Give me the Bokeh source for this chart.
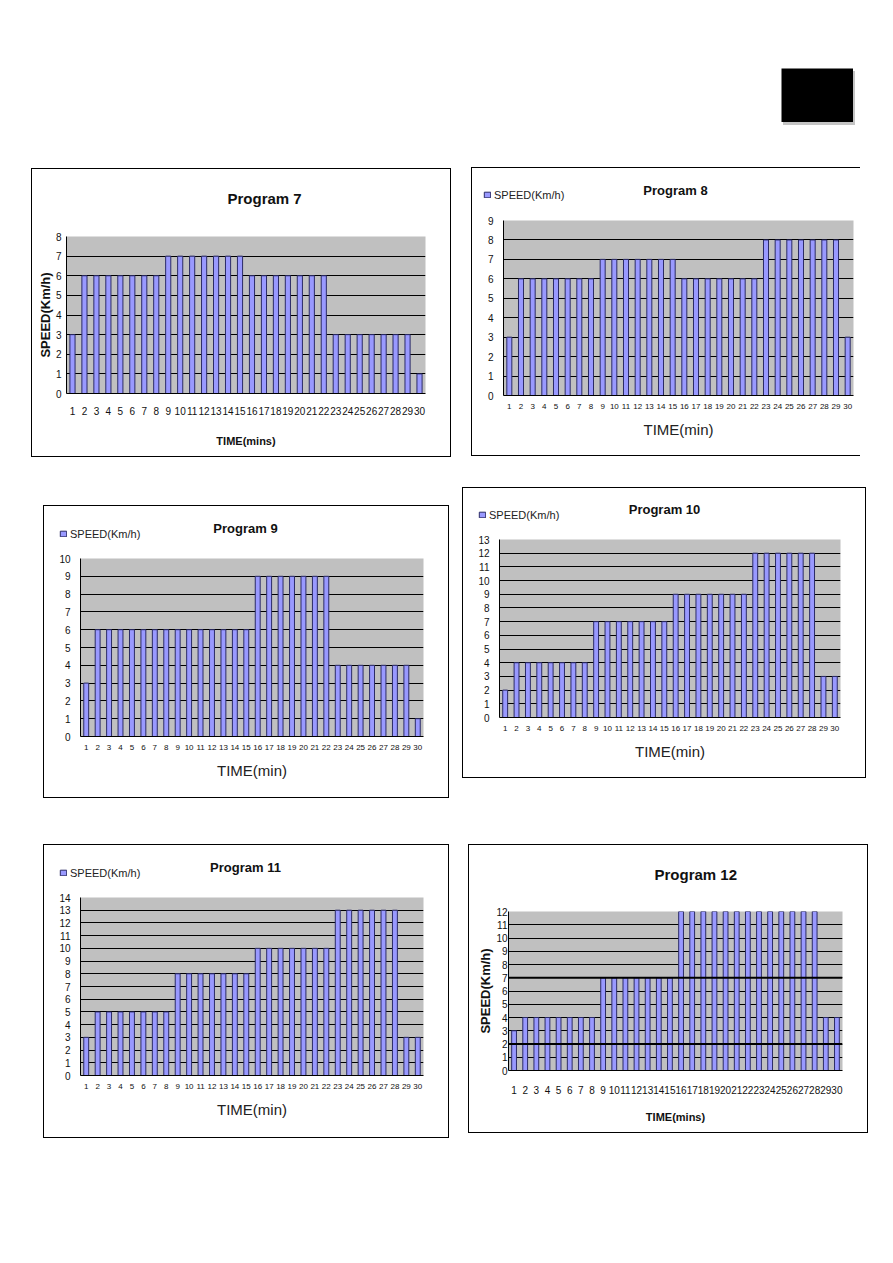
from bokeh.plotting import figure
from bokeh.models import (FactorRange, Range1d, FixedTicker, Legend, LegendItem,
                          Spacer, Span, Title, Label)
from bokeh.layouts import row, column
from bokeh.embed import file_html
from bokeh.resources import INLINE

# ---------------- data ----------------
minutes = [str(i) for i in range(1, 31)]

p7_speed = [3, 6, 6, 6, 6, 6, 6, 6, 7, 7, 7, 7, 7, 7, 7,
            6, 6, 6, 6, 6, 6, 6, 3, 3, 3, 3, 3, 3, 3, 1]
p8_speed = [3, 6, 6, 6, 6, 6, 6, 6, 7, 7, 7, 7, 7, 7, 7,
            6, 6, 6, 6, 6, 6, 6, 8, 8, 8, 8, 8, 8, 8, 3]
p9_speed = [3, 6, 6, 6, 6, 6, 6, 6, 6, 6, 6, 6, 6, 6, 6,
            9, 9, 9, 9, 9, 9, 9, 4, 4, 4, 4, 4, 4, 4, 1]
p10_speed = [2, 4, 4, 4, 4, 4, 4, 4, 7, 7, 7, 7, 7, 7, 7,
             9, 9, 9, 9, 9, 9, 9, 12, 12, 12, 12, 12, 12, 3, 3]
p11_speed = [3, 5, 5, 5, 5, 5, 5, 5, 8, 8, 8, 8, 8, 8, 8,
             10, 10, 10, 10, 10, 10, 10, 13, 13, 13, 13, 13, 13, 3, 3]
p12_speed = [3, 4, 4, 4, 4, 4, 4, 4, 7, 7, 7, 7, 7, 7, 7,
             12, 12, 12, 12, 12, 12, 12, 12, 12, 12, 12, 12, 12, 4, 4]

y_max = {"7": 8, "8": 9, "9": 10, "10": 13, "11": 14, "12": 12}
series_name = "SPEED(Km/h)"
x_title_short = "TIME(min)"
x_title_long = "TIME(mins)"

# ---------------- styles ----------------
SANS = "Liberation Sans"
BAR_FILL = "#9999FF"
BAR_LINE = "#2B2B66"
PLOT_BG = "#C0C0C0"
BORDER = "1px solid #000000"
HEADER_H = 45


def bar_chart(speeds, ymax, w, h, mb, styles):
    p = figure(width=w, height=h, x_range=FactorRange(*minutes),
               y_range=Range1d(0, ymax), output_backend="svg", toolbar_location=None,
               title=None,
               min_border_left=mb[0], min_border_right=mb[1],
               min_border_top=mb[2], min_border_bottom=mb[3],
               background_fill_color=PLOT_BG, border_fill_color="white",
               outline_line_color=None, styles=styles)
    r = p.vbar(x=minutes, top=speeds, width=0.43, fill_color=BAR_FILL,
               line_color=BAR_LINE, line_width=1)
    p.xgrid.grid_line_color = None
    p.ygrid.grid_line_color = "#000000"
    p.ygrid.grid_line_width = 1
    p.yaxis.ticker = FixedTicker(ticks=list(range(0, ymax + 1)))
    for ax in (p.xaxis[0], p.yaxis[0]):
        ax.axis_line_color = "#000000"
        ax.major_tick_line_color = None
        ax.minor_tick_line_color = None
        ax.major_tick_out = 0
        ax.major_tick_in = 0
        ax.minor_tick_out = 0
        ax.minor_tick_in = 0
        ax.major_label_text_font = SANS
        ax.major_label_text_color = "#111111"
    return p, r


def excel_chart(name, speeds, ymax, w, h, mb, title_pad, title_off,
                x_std, xl_std, y_std, yl_std):
    """Chart with bold title and bold axis titles (Programs 7 and 12)."""
    p, r = bar_chart(speeds, ymax, w, h, mb, {"border": BORDER})
    p.xaxis.major_label_text_font_size = "10px"
    p.yaxis.major_label_text_font_size = "10px"
    p.xaxis.major_label_standoff = x_std
    p.yaxis.major_label_standoff = y_std
    p.xaxis.axis_label = x_title_long
    p.xaxis.axis_label_text_font = SANS
    p.xaxis.axis_label_text_color = "#111111"
    p.xaxis.axis_label_text_font_style = "bold"
    p.xaxis.axis_label_text_font_size = "11px"
    p.xaxis.axis_label_standoff = xl_std
    p.yaxis.axis_label = series_name
    p.yaxis.axis_label_text_font = SANS
    p.yaxis.axis_label_text_font_style = "bold"
    p.yaxis.axis_label_text_font_size = "13px"
    p.yaxis.axis_label_text_color = "#111111"
    p.yaxis.axis_label_standoff = yl_std
    t = Title(text=name, align="left", offset=title_off, text_font=SANS,
              text_font_style="bold", text_font_size="15px", text_color="#111111",
              padding=dict(left=0, right=0, top=0, bottom=title_pad))
    p.add_layout(t, "above")
    return p


def legend_chart(name, speeds, ymax, w, h, mb, title_x, title_y, leg_x, leg_y, right_border=True):
    """Chart with a header strip holding title and legend (Programs 8-11)."""
    side = "1px solid #000000"
    hs = {"border-top": side, "border-left": side}
    cs = {"border-bottom": side, "border-left": side}
    if right_border:
        hs["border-right"] = side
        cs["border-right"] = side
    head = figure(width=w, height=HEADER_H, x_range=Range1d(0, w), y_range=Range1d(0, HEADER_H),
                  output_backend="svg", toolbar_location=None, title=None,
                  min_border=0, x_axis_type=None, y_axis_type=None,
                  background_fill_color="white", border_fill_color="white",
                  outline_line_color=None, styles=hs)
    head.xgrid.grid_line_color = None
    head.ygrid.grid_line_color = None
    # legend proxy: the series itself, on a y range that keeps its bars out of view
    head.extra_y_ranges = {"proxy": Range1d(1000, 1100)}
    proxy = head.vbar(x=list(range(1, 31)), top=speeds, width=0.43, fill_color=BAR_FILL,
                      line_color=BAR_LINE, line_width=1, y_range_name="proxy")
    head.add_layout(Label(x=title_x, y=title_y, text=name, text_font=SANS,
                          text_font_style="bold", text_font_size="13px",
                          text_color="#111111", text_align="center",
                          text_baseline="middle"))
    leg = Legend(items=[LegendItem(label=series_name, renderers=[proxy])],
                 location=(leg_x, leg_y), orientation="horizontal",
                 label_text_font=SANS, label_text_font_size="11px",
                 label_text_color="#222222", label_height=12,
                 glyph_width=8, glyph_height=7, label_standoff=3,
                 padding=0, margin=0, spacing=0,
                 border_line_color=None, background_fill_alpha=0)
    head.add_layout(leg, "center")

    p, r = bar_chart(speeds, ymax, w, h - HEADER_H, mb, cs)
    p.xaxis.major_label_text_font_size = "8px"
    p.yaxis.major_label_text_font_size = "10px"
    p.xaxis.major_label_standoff = 8
    p.yaxis.major_label_standoff = 10
    p.xaxis.axis_label = x_title_short
    p.xaxis.axis_label_text_font = SANS
    p.xaxis.axis_label_text_color = "#222222"
    p.xaxis.axis_label_text_font_style = "normal"
    p.xaxis.axis_label_text_font_size = "15px"
    p.xaxis.axis_label_standoff = 9
    return head, p


f7 = excel_chart("Program 7", p7_speed, y_max["7"], 420, 289, (34, 27, 67, 65), 25, 161,
                 13, 17, 5, 0)
f12 = excel_chart("Program 12", p12_speed, y_max["12"], 400, 289, (39, 27, 66, 64), 24, 146,
                  15, 14, 1, 0)
for lvl in (2, 7):
    f12.add_layout(Span(location=lvl, dimension="width", line_color="#000000", line_width=2))

h8, f8 = legend_chart("Program 8", p8_speed, y_max["8"], 389, 289, (31, 8, 8, 61),
                      203, 23, 11, 12.5, right_border=False)
h9, f9 = legend_chart("Program 9", p9_speed, y_max["9"], 406, 293, (36, 27, 8, 62),
                      201, 23, 15, 11.5)
h10, f10 = legend_chart("Program 10", p10_speed, y_max["10"], 404, 291, (36, 27, 7, 61),
                        201, 24, 15, 12.5)
h11, f11 = legend_chart("Program 11", p11_speed, y_max["11"], 406, 294, (36, 27, 8, 63),
                        201, 23, 15, 11.5)

black_box = figure(width=72, height=54, min_border=0, toolbar_location=None,
                   output_backend="svg", x_axis_type=None, y_axis_type=None,
                   background_fill_color="#000000", border_fill_color="#000000",
                   outline_line_color=None,
                   styles={"box-shadow": "2px 3px 0 #c4c4c4"})

left = column(
    Spacer(width=1, height=168),
    row(Spacer(width=31, height=1), f7),
    Spacer(width=1, height=48),
    row(Spacer(width=43, height=1), h9),
    row(Spacer(width=43, height=1), f9),
    Spacer(width=1, height=46),
    row(Spacer(width=43, height=1), h11),
    row(Spacer(width=43, height=1), f11),
)
right = column(
    Spacer(width=1, height=68),
    row(Spacer(width=330, height=1), black_box),
    Spacer(width=1, height=45),
    row(Spacer(width=20, height=1), h8),
    row(Spacer(width=20, height=1), f8),
    Spacer(width=1, height=31),
    row(Spacer(width=11, height=1), h10),
    row(Spacer(width=11, height=1), f10),
    Spacer(width=1, height=66),
    row(Spacer(width=17, height=1), f12),
)
page = row(left, right)

open("out.html", "w").write(file_html(page, INLINE))
